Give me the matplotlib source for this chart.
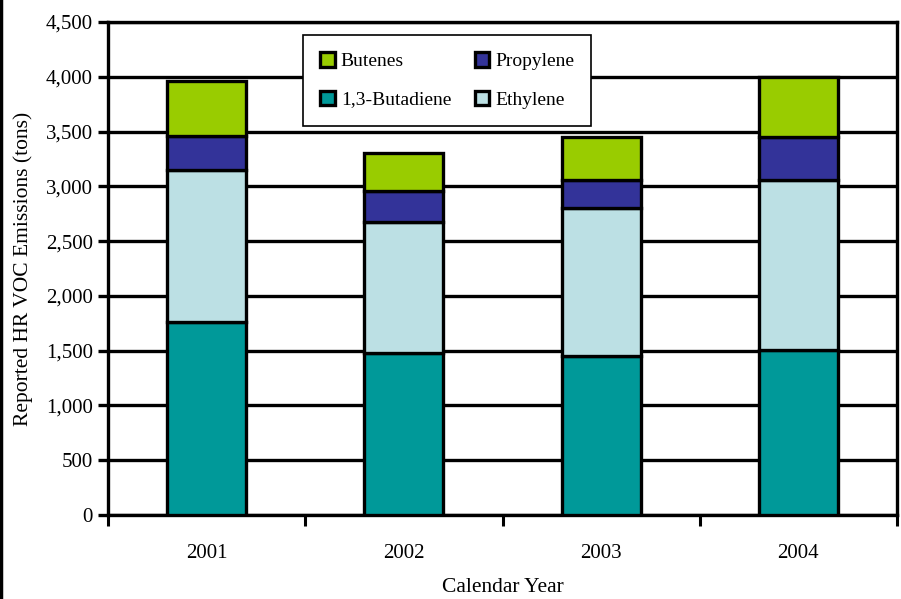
import numpy as np
import matplotlib.pyplot as plt
from matplotlib.lines import Line2D
from matplotlib.ticker import FuncFormatter, FixedLocator

plt.rcParams['font.family'] = ['Liberation Serif', 'DejaVu Serif']

years = ['2001', '2002', '2003', '2004']
butadiene = [1760, 1475, 1450, 1505]
ethylene = [1390, 1195, 1355, 1550]
propylene = [305, 290, 250, 395]
butenes = [505, 340, 395, 545]

series = [
    ('1,3-Butadiene', butadiene, '#009999'),
    ('Ethylene', ethylene, '#bce0e4'),
    ('Propylene', propylene, '#333399'),
    ('Butenes', butenes, '#99cc00'),
]

fig = plt.figure(figsize=(9.01, 5.99), dpi=100)
ax = fig.add_axes([0.1199, 0.1402, 0.8757, 0.8231])

x = np.arange(len(years))
bottom = np.zeros(len(years))
bars = {}
for name, vals, col in series:
    bars[name] = ax.bar(x, vals, 0.4, bottom=bottom, color=col,
                        edgecolor='black', linewidth=2.4, zorder=3, label=name)
    bottom += np.array(vals)

ax.set_xlim(-0.5, 3.5)
ax.set_ylim(0, 4500)
ax.set_yticks(np.arange(0, 4501, 500))
ax.yaxis.set_major_formatter(FuncFormatter(lambda v, p: f'{int(v):,}'))
ax.grid(axis='y', color='black', linewidth=2.4, zorder=0)

# year labels in the middle, tick marks between categories
ax.set_xticks(x)
ax.set_xticklabels(years)
ax.tick_params(axis='x', which='major', length=0, pad=21, labelsize=15)
ax.xaxis.set_minor_locator(FixedLocator([-0.5, 0.5, 1.5, 2.5, 3.5]))
ax.tick_params(axis='x', which='minor', length=8, width=2.2, direction='out')
ax.tick_params(axis='y', length=7, width=2.4, labelsize=15, pad=4)

for s in ax.spines.values():
    s.set_linewidth(2.4)

ax.set_xlabel('Calendar Year', fontsize=15.5, labelpad=11)
ax.set_ylabel('Reported HR VOC Emissions (tons)', fontsize=15.5, labelpad=9)

order = ['Butenes', '1,3-Butadiene', 'Propylene', 'Ethylene']
leg = ax.legend([bars[n] for n in order], order, ncol=2, loc='upper left',
                bbox_to_anchor=(0.247, 0.974), borderaxespad=0,
                fontsize=14, frameon=True,
                fancybox=False, edgecolor='black', framealpha=1,
                handlelength=0.75, handleheight=0.75, handletextpad=0.3,
                columnspacing=1.2, labelspacing=1.05, borderpad=0.9)
leg.get_frame().set_linewidth(1.2)
leg.set_zorder(5)

# border line on the left side of the figure
fig.add_artist(Line2D([0.0015, 0.0015], [0, 1], color='black', linewidth=2.5,
                      transform=fig.transFigure))

plt.savefig('out.png', dpi=100)
